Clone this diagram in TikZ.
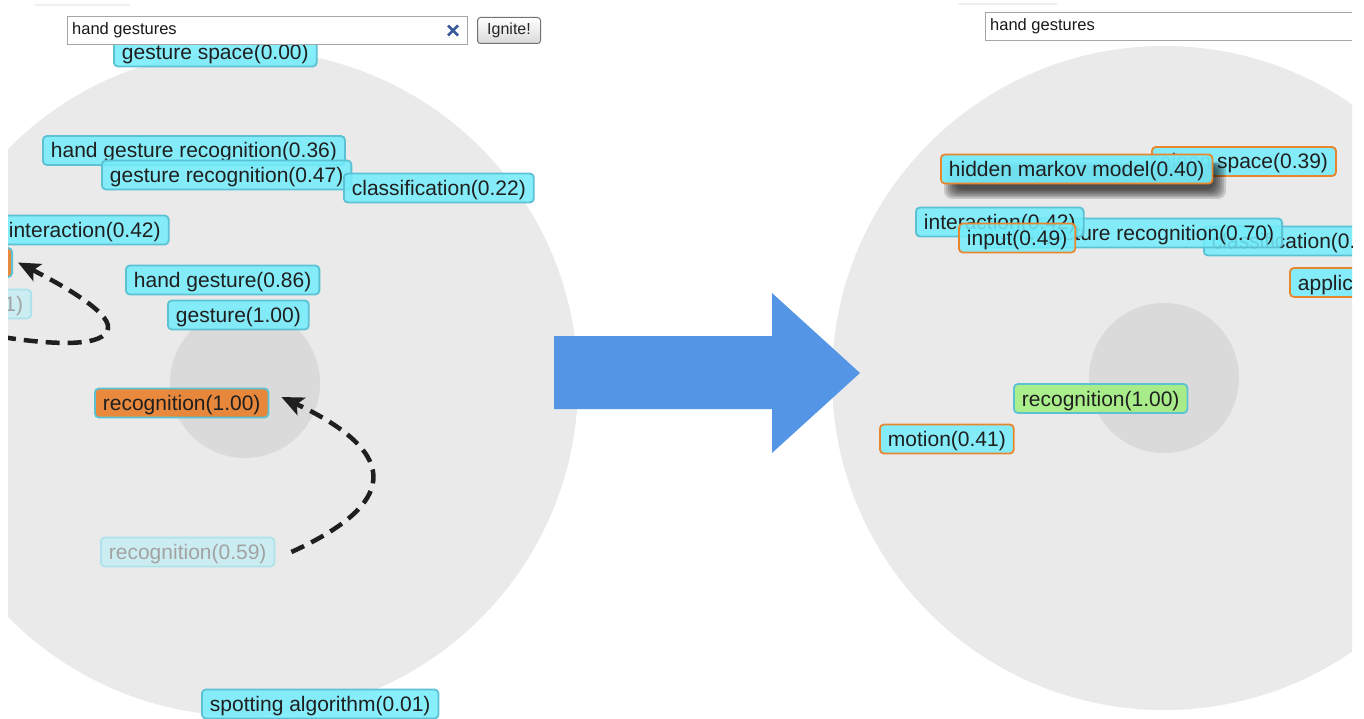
\documentclass[tikz,border=0pt]{standalone}
\usepackage{fontspec}
\setmainfont{Liberation Sans}
\usetikzlibrary{arrows.meta}
\definecolor{bigc}{HTML}{EAEAEA}
\definecolor{innc}{HTML}{DADADA}
\definecolor{labfill}{HTML}{74ECFB}
\definecolor{labdraw}{HTML}{5BC2D4}
\definecolor{orfill}{HTML}{E87A22}
\definecolor{ordraw}{HTML}{E8862D}
\definecolor{grfill}{HTML}{A0F07C}
\definecolor{fadefill}{HTML}{C6EEF3}
\definecolor{fadedraw}{HTML}{ADE2EA}
\definecolor{fadetext}{HTML}{A2A2A2}
\definecolor{bluearrow}{RGB}{85,149,230}
\definecolor{xblue}{HTML}{3B5A9A}
\definecolor{faintline}{HTML}{EFEFEF}
\begin{document}
\begin{tikzpicture}[x=1pt,y=-1pt,
  lab/.style={draw=labdraw, fill=labfill, fill opacity=0.86, text opacity=1,
    line width=1.8pt, rounded corners=4pt, inner xsep=8pt, inner ysep=0pt,
    text height=15.5pt, text depth=0.5pt, minimum height=29pt,
    font=\fontsize{21}{25}\selectfont, text=black!88},
  orlab/.style={lab, draw=ordraw},
  fadelab/.style={lab, fill=fadefill, draw=fadedraw, text=fadetext},
  sbox/.style={draw=black!35, fill=white, line width=1pt, minimum height=28pt, anchor=north west},
  sbtext/.style={anchor=west, font=\fontsize{16.5}{20}\selectfont, text=black!90, inner sep=0pt},
  dasharr/.style={line width=4.5pt, black!88, dash pattern=on 14pt off 8pt,
    -{Stealth[length=22pt,width=19pt,inset=5pt]}},
  shadowlayer/.style={black, opacity=0.14, rounded corners=8pt}
]
\useasboundingbox (0,0) rectangle (1364,719);
\fill[white] (0,0) rectangle (1364,719);

% ---------------- left panel ----------------
\begin{scope}
\clip (8,0) rectangle (640,719);
\fill[bigc] (245,383) circle[radius=333];
\fill[innc] (245,383) circle[radius=75];
\draw[faintline, line width=2pt] (35,5) -- (130,5);

\node[lab, anchor=west] (gs) at (113,52) {gesture space(0.00)};
\node[lab, anchor=west] (hgr) at (42,150.5) {hand gesture recognition(0.36)};
\node[lab, anchor=west] (gr) at (101,175) {gesture recognition(0.47)};
\node[lab, anchor=west] (cl) at (343,188) {classification(0.22)};
\node[lab, anchor=west] (ia) at (0,230) {interaction(0.42)};
\node[lab, fill=orfill, minimum width=40pt, anchor=east] (ob) at (13,262.5) {};
\node[fadelab, text width=50pt, align=right, anchor=east] (f1) at (32,304) {1)};
\node[lab, anchor=west] (hg) at (125,280) {hand gesture(0.86)};
\node[lab, anchor=west] (g) at (167,315) {gesture(1.00)};
\node[lab, fill=orfill, anchor=west] (r100) at (94,403) {recognition(1.00)};
\node[fadelab, anchor=west] (r59) at (100,552) {recognition(0.59)};
\node[lab, anchor=west] (sa) at (201,704) {spotting algorithm(0.01)};

\draw[dasharr] ([xshift=16pt]r59.east) .. controls (395,505) and (405,455) .. ([xshift=12pt,yshift=6pt]r100.east);
\coordinate (a2s) at (2,337);
\draw[dasharr] (a2s) .. controls (60,346) and (106,346) .. (108,328)
  .. controls (110,312) and (62,285) .. ([xshift=5pt]ob.east);

% search box
\node[sbox, minimum width=400pt] (sb1) at (67,16) {};
\node[sbtext] (st1) at ([xshift=5pt]sb1.west) {hand gestures};
\draw[xblue, line width=2.6pt] (448,25.5) -- (458,35.5) (448,35.5) -- (458,25.5);
\node[draw=black!55, rounded corners=3pt, top color=white, bottom color=black!15,
  line width=1pt, minimum width=63pt, minimum height=26pt, inner sep=0pt, anchor=north west,
  font=\fontsize{16}{19}\selectfont, text=black!85] (ig) at (477,17) {Ignite!};
\end{scope}

% ---------------- right panel ----------------
\begin{scope}
\clip (640,0) rectangle (1352,719);
\fill[bigc] (1164,378) circle[radius=332];
\fill[innc] (1164,378) circle[radius=75];
\draw[faintline, line width=2pt] (958,4) -- (1057,4);

\node[lab, anchor=west] (rcl) at (1203,241) {classification(0.22)};
\node[lab, anchor=east] (rhgr) at (1283,233) {hand gesture recognition(0.70)};
\node[lab, anchor=west] (ria) at (915,222) {interaction(0.42)};
\node[orlab, anchor=west] (rin) at (958,238) {input(0.49)};
\node[orlab, anchor=west] (rap) at (1289,282.5) {application};
\node[orlab, anchor=west] (res) at (1151,161.5) {eigen space(0.39)};
% drop shadow of the hovered label
\foreach \k in {0,...,6}
  \fill[shadowlayer] (944+2*\k,162+0.6*\k) rectangle (1226-2*\k,199-1.6*\k);
\node[orlab, fill opacity=0.93, anchor=west] (rhmm) at (940,169) {hidden markov model(0.40)};
\node[lab, fill=grfill, anchor=west] (rr) at (1013,398.5) {recognition(1.00)};
\node[orlab, anchor=west] (rmo) at (879,439) {motion(0.41)};

\node[sbox, minimum width=420pt] (sb2) at (985,12) {};
\node[sbtext] (st2) at ([xshift=5pt]sb2.west) {hand gestures};
\end{scope}

% ---------------- big arrow ----------------
\fill[bluearrow] (554,336) -- (772,336) -- (772,293) -- (860,373) -- (772,453)
  -- (772,409) -- (554,409) -- cycle;
\end{tikzpicture}
\end{document}
